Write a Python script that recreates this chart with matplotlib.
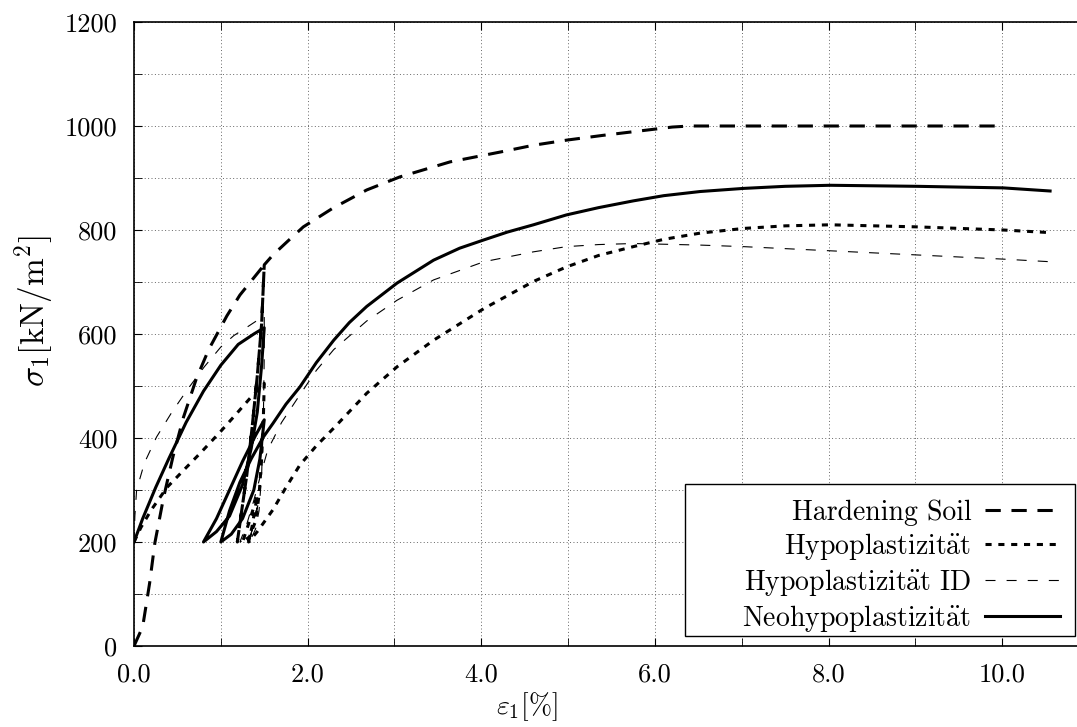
import numpy as np
import matplotlib.pyplot as plt
from matplotlib.patches import Rectangle
from matplotlib.ticker import MultipleLocator, FormatStrFormatter

plt.rcParams["font.family"] = ["cmr10", "DejaVu Serif"]
plt.rcParams["mathtext.fontset"] = "cm"
plt.rcParams["axes.formatter.use_mathtext"] = True

# Hardening Soil: load, unload/reload at 1.5 %, further loading
hs_eps = [0.0, 0.1, 0.18, 0.24, 0.34, 0.45, 0.57, 0.72, 0.86, 1.07, 1.22, 1.5,
          1.47, 1.42, 1.36, 1.3, 1.24, 1.19,
          1.24, 1.3, 1.36, 1.42, 1.47, 1.5,
          1.6, 1.78, 1.95, 2.29, 2.68, 3.06, 3.64, 4.22, 4.6, 4.99, 5.4, 5.75,
          6.0, 6.2, 6.4, 8.0, 10.0]
hs_sig = [0, 37, 121, 198, 285, 365, 440, 515, 570, 635, 675, 733,
          620, 520, 420, 330, 260, 200,
          260, 330, 420, 520, 620, 733,
          752, 780, 806, 842, 877, 902, 931, 950, 963, 973, 982, 989,
          994, 998, 1000, 1000, 1000]

# Hypoplastizitaet
hp_eps = [0.0, 0.08, 0.2, 0.38, 0.6, 0.77, 1.0, 1.15, 1.35, 1.5,
          1.49, 1.47, 1.44, 1.4, 1.33, 1.25,
          1.33, 1.42,
          1.36, 1.32,
          1.42, 1.6, 1.75, 1.91, 2.1, 2.3, 2.68, 3.03, 3.45, 4.03, 4.6, 4.98,
          5.35, 5.75, 6.1, 6.52, 7.02, 7.5, 8.02, 9.02, 10.01, 10.55]
hp_sig = [200, 228, 262, 305, 343, 372, 413, 441, 479, 505,
          440, 360, 290, 240, 210, 200,
          240, 290,
          230, 200,
          220, 262, 305, 348, 385, 419, 486, 537, 588, 649, 701, 729,
          751, 768, 782, 794, 803, 808, 810, 806, 800, 795]

# Hypoplastizitaet ID
id_eps = [0.0, 0.01, 0.03, 0.12, 0.26, 0.43, 0.61, 0.81, 1.0, 1.15, 1.3, 1.5,
          1.5, 1.49, 1.47, 1.44, 1.4, 1.33,
          1.38, 1.44,
          1.34, 1.22,
          1.3, 1.38, 1.46, 1.54, 1.7, 1.91, 2.1, 2.3, 2.68, 3.03, 3.45, 4.03,
          4.6, 4.98, 5.35, 5.75, 6.52, 7.02, 8.02, 9.02, 10.01, 10.55]
id_sig = [200, 250, 300, 352, 402, 448, 492, 537, 575, 597, 613, 635,
          560, 440, 330, 260, 225, 200,
          240, 280,
          210, 200,
          235, 280, 330, 377, 430, 483, 530, 570, 625, 665, 704, 739,
          758, 768, 772, 774, 771, 768, 760, 752, 744, 739]

# Neohypoplastizitaet
nh_eps = [0.0, 0.1, 0.25, 0.4, 0.6, 0.8, 1.0, 1.2, 1.38, 1.5,
          1.47, 1.42, 1.35, 1.25, 1.1, 0.95, 0.8,
          0.95, 1.1, 1.25, 1.4, 1.5,
          1.45, 1.38, 1.25, 1.12, 1.0,
          1.1, 1.22, 1.35, 1.49, 1.6, 1.75, 1.91, 2.1, 2.3, 2.48, 2.68, 3.03,
          3.45, 3.75, 4.03, 4.3, 4.6, 4.98, 5.35, 5.75, 6.1, 6.52, 7.02, 7.5,
          8.02, 9.02, 10.01, 10.55]
nh_sig = [200, 245, 305, 360, 430, 490, 540, 580, 600, 612,
          540, 450, 380, 310, 250, 220, 200,
          245, 300, 355, 405, 435,
          360, 300, 245, 215, 200,
          260, 315, 360, 402, 428, 465, 498, 545, 588, 622, 653, 698,
          742, 765, 781, 796, 810, 829, 843, 856, 866, 874, 880, 884,
          886, 884, 881, 875]

fig = plt.figure(figsize=(10.77, 7.27), dpi=100)
ax = fig.add_axes([134 / 1077, 1 - 646 / 727, 943 / 1077, 624 / 727])

ax.plot(hs_eps, hs_sig, color="black", lw=2.2, ls=(0, (5, 3.5)), label="Hardening Soil")
ax.plot(hp_eps, hp_sig, color="black", lw=2.2, ls=(0, (2.0, 2.2)),
        label=r"Hypoplastizit$\ddot{\mathrm{a}}$t")
ax.plot(id_eps, id_sig, color="black", lw=0.8, ls=(0, (9, 10)),
        label=r"Hypoplastizit$\ddot{\mathrm{a}}$t ID")
ax.plot(nh_eps, nh_sig, color="black", lw=2.2, ls="-",
        label=r"Neohypoplastizit$\ddot{\mathrm{a}}$t")

ax.set_xlim(0, 10.86)
ax.set_ylim(0, 1200)
ax.xaxis.set_major_locator(MultipleLocator(2))
ax.xaxis.set_minor_locator(MultipleLocator(1))
ax.yaxis.set_major_locator(MultipleLocator(200))
ax.yaxis.set_minor_locator(MultipleLocator(100))
ax.xaxis.set_major_formatter(FormatStrFormatter("%.1f"))
ax.yaxis.set_major_formatter(FormatStrFormatter("%d"))
ax.tick_params(which="both", direction="in", top=True, right=False, labelsize=19)
ax.tick_params(which="both", length=6)
ax.tick_params(axis="x", pad=12)
ax.tick_params(axis="y", pad=12)
ax.grid(which="both", color="#666666", ls=(0, (1, 2.5)), lw=0.7)
ax.spines["right"].set_visible(False)
for s in ["left", "top", "bottom"]:
    ax.spines[s].set_linewidth(1.2)

ax.set_xlabel(r"$\varepsilon_1[\%]$", fontsize=20)
ax.set_ylabel(r"$\sigma_1[\mathrm{kN/m^2}]$", fontsize=24)
ax.xaxis.set_label_coords(0.417, -0.071)
ax.yaxis.set_label_coords(-0.083, 0.537)

leg = ax.legend(loc="lower right", bbox_to_anchor=(0.982, 0.020), borderaxespad=0,
                markerfirst=False, frameon=False, fontsize=20, handlelength=2.7,
                handletextpad=0.5, labelspacing=0.18, borderpad=0)
for t in leg.get_texts():
    t.set_ha("right")

# gnuplot-style key box: wide margin on the left side
fig.canvas.draw()
bb = leg.get_window_extent()
pad_l, pad_r, pad_t, pad_b = 57, 15, 15, 2
x0, y0 = fig.transFigure.inverted().transform((bb.x0 - pad_l, bb.y0 - pad_b))
x1, y1 = fig.transFigure.inverted().transform((bb.x1 + pad_r, bb.y1 + pad_t))
box = Rectangle((x0, y0), x1 - x0, y1 - y0, transform=fig.transFigure,
                facecolor="white", edgecolor="black", lw=1.0, zorder=4.5,
                clip_on=False)
ax.add_artist(box)

fig.savefig("out.png", dpi=100)
